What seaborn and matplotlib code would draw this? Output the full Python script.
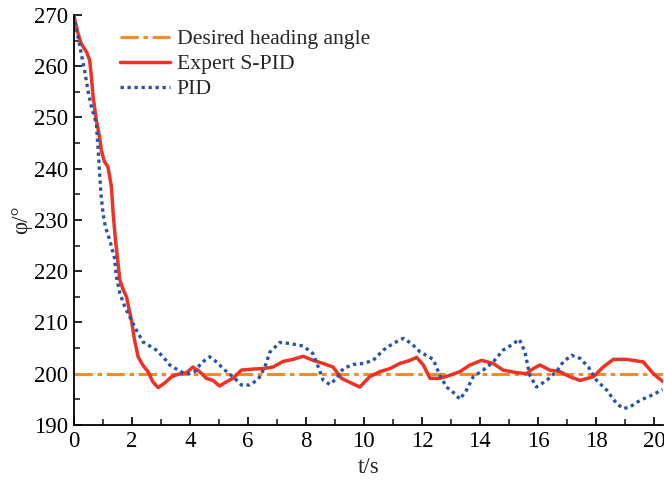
import numpy as np
import pandas as pd
import matplotlib
matplotlib.use('Agg')
import matplotlib.pyplot as plt
import seaborn as sns
from matplotlib.ticker import MultipleLocator

# Expert S-PID response
t_spid = [0, 0.15, 0.26, 0.44, 0.55, 0.61, 0.67, 0.78, 0.9, 0.95, 1.05, 1.18, 1.3, 1.36,
          1.44, 1.51, 1.59, 1.7, 1.82, 1.99, 2.1, 2.22, 2.39, 2.56, 2.73, 2.91, 3.14,
          3.37, 3.6, 3.89, 4.11, 4.34, 4.57, 4.8, 5.03, 5.26, 5.49, 5.78, 6.18,
          6.53, 6.87, 7.22, 7.56, 7.91, 8.25, 8.6, 8.94, 9.23, 9.52, 9.86, 10.2, 10.55,
          10.9, 11.24, 11.59, 11.82, 12.05, 12.28, 12.62, 12.97, 13.31, 13.66, 14.06,
          14.46, 14.8, 15.27, 15.61, 15.84, 16.07, 16.41, 16.76, 17.1, 17.45, 17.91,
          18.25, 18.6, 19.06, 19.63, 19.98, 20.3]
phi_spid = [270, 266.4, 264.4, 262.8, 261.2, 257.9, 254, 249.5, 245.9, 243.7, 241.5, 240.4,
            236.5, 231.3, 226.1, 222.5, 218.3, 216.5, 215, 210.4, 206.5, 203.3, 201.6,
            200.4, 198.4, 197.3, 198.2, 199.4, 199.9, 200.2, 201.3, 200.4, 199.1, 198.7,
            197.6, 198.4, 199.1, 200.7, 200.9, 201, 201.3, 202.4, 202.8, 203.4, 202.6,
            202, 201.3, 199.1, 198.3, 197.4, 199.4, 200.4, 201, 202, 202.6, 203.2, 201.7,
            199.1, 199.1, 199.7, 200.4, 201.7, 202.6, 202, 200.7, 200.2, 200, 201, 201.7,
            200.7, 200.4, 199.4, 198.7, 199.4, 201.3, 202.8, 202.8, 202.3, 200, 198.5]

# PID response
t_pid = [0, 0.15, 0.26, 0.38, 0.49, 0.61, 0.78, 0.86, 0.9, 0.95, 1.01, 1.09, 1.24, 1.41,
         1.47, 1.59, 1.76, 1.93, 2.16, 2.39, 2.68, 2.85, 3.08, 3.31, 3.6, 3.77, 4.0,
         4.17, 4.4, 4.69, 4.92, 5.21, 5.49, 5.78, 6.07, 6.36, 6.59, 6.76, 7.1, 7.45,
         7.91, 8.25, 8.43, 8.6, 8.83, 9.06, 9.29, 9.63, 9.98, 10.32, 10.67, 11.01,
         11.36, 11.64, 11.93, 12.39, 12.62, 12.85, 13.14, 13.31, 13.54, 13.77, 14.11,
         14.46, 14.8, 15.09, 15.36, 15.55, 15.72, 15.95, 16.3, 16.64, 16.87, 17.16,
         17.45, 17.74, 18.02, 18.37, 18.71, 18.94, 19.17, 19.52, 19.92, 20.3]
phi_pid = [270, 265.7, 262.5, 259, 255.3, 252.1, 248.8, 242.3, 238.4, 234.5, 231.3, 228.7,
           226.1, 222.5, 219, 215.7, 213.1, 211.1, 208.5, 206.2, 205.2, 204.6, 203.3,
           201.7, 200.7, 200.2, 200, 200.4, 202.1, 203.3, 202.3, 200.7, 199.4, 197.8,
           197.8, 198.9, 201.3, 204.2, 206.1, 205.9, 205.4, 203.9, 201.3, 198.7, 197.9,
           199.1, 201, 201.8, 202, 202.6, 204.6, 205.9, 206.9, 205.9, 204.3, 202.8,
           199.7, 197.4, 196.1, 195, 196.8, 199.4, 200.7, 202.3, 204.6, 205.6, 206.7,
           204.3, 199.7, 197.4, 198.7, 200.4, 202.3, 203.6, 203, 201.3, 198.7, 196.8,
           194.2, 193.2, 193.5, 194.8, 195.8, 196.9]

t_ref = [0, 20.3]
phi_ref = [200, 200]

sns.set_theme(style='ticks')
plt.rcParams['font.family'] = ['Liberation Serif', 'DejaVu Serif']

fig = plt.figure(figsize=(6.64, 4.84), dpi=100)
ax = fig.add_axes([0.111, 0.122, 0.887, 0.847])

sns.lineplot(x=t_ref, y=phi_ref, ax=ax, color='#F68B2C', lw=2.2,
             linestyle=(0, (6, 1.5, 1.5, 1.5)), label='Desired heading angle')
sns.lineplot(x=t_spid, y=phi_spid, ax=ax, color='#EE3224', lw=2.5,
             label='Expert S-PID', sort=False, solid_joinstyle='round')
sns.lineplot(x=t_pid, y=phi_pid, ax=ax, color='#2656A8', lw=2.4,
             linestyle=(0, (1, 1.1)), label='PID', sort=False)

ax.set_xlim(0, 20.3)
ax.set_ylim(190, 270)
ax.xaxis.set_major_locator(MultipleLocator(2))
ax.xaxis.set_minor_locator(MultipleLocator(1))
ax.yaxis.set_major_locator(MultipleLocator(10))
ax.yaxis.set_minor_locator(MultipleLocator(5))
ax.tick_params(which='major', direction='in', length=6, width=1.2, labelsize=16.5,
               colors='black', pad=4)
ax.tick_params(which='minor', direction='in', length=4, width=1.2)
for s in ['top', 'right']:
    ax.spines[s].set_visible(False)
for s in ['left', 'bottom']:
    ax.spines[s].set_linewidth(1.3)
    ax.spines[s].set_color('black')

ax.set_xlabel('t/s', fontsize=16.5, labelpad=4)
ax.set_ylabel('φ/°', fontsize=16.5, labelpad=1)

ax.legend(loc='upper left', bbox_to_anchor=(0.055, 1.0), frameon=False, fontsize=15.6,
          handlelength=2.3, handletextpad=0.3, labelspacing=0.22, borderaxespad=0.25)

fig.savefig('out.png', dpi=100)
